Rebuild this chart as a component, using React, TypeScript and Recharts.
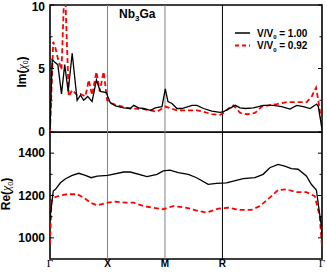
import React from 'react';
import { LineChart, Line, XAxis, YAxis, ReferenceLine, ReferenceArea } from 'recharts';

// Path coordinate: Γ=0, X=0.5, M=1.0, R=1.5, Γ=1.5+√3/2
const K_END = 2.366;
const kTicks = [0, 0.5, 1, 1.5, K_END];
const kLabels = ['Γ', 'X', 'M', 'R', 'Γ'];

const imTicks = [0, 2.5, 5, 7.5, 10];
const imTickLabels = ['0', '', '5', '', '10'];
const reTicks = [1000, 1100, 1200, 1300, 1400];
const reTickLabels = ['1000', '', '1200', '', '1400'];

// Im(chi0), V/V0 = 1.00
const imK100 = [0, 0.019, 0.042, 0.068, 0.1, 0.128, 0.158, 0.193, 0.236, 0.265, 0.293, 0.328, 0.366, 0.404, 0.438, 0.491, 0.502, 0.525, 0.569, 0.641, 0.699, 0.728, 0.771, 0.814, 0.873, 0.916, 0.974, 1.003, 1.026, 1.061, 1.104, 1.148, 1.235, 1.278, 1.335, 1.408, 1.48, 1.509, 1.552, 1.611, 1.654, 1.698, 1.77, 1.856, 1.943, 2.016, 2.088, 2.146, 2.204, 2.262, 2.32, 2.334, 2.363, 2.366];
const imV100 = [0.2, 5.7, 5.5, 5.3, 3.0, 5.3, 3.2, 6.2, 2.5, 2.9, 2.5, 2.8, 2.4, 4.1, 3.2, 3.1, 2.8, 2.3, 2.05, 1.9, 1.85, 2.1, 1.9, 1.85, 1.7, 1.9, 2.0, 3.4, 2.4, 2.25, 1.85, 1.85, 2.1, 2.1, 1.85, 1.65, 1.55, 1.6, 1.8, 2.1, 1.9, 1.85, 1.9, 2.1, 2.1, 2.0, 1.8, 2.1, 2.0, 1.85, 2.2, 2.0, 0.4, 0.2];

// Im(chi0), V/V0 = 0.92
const imK092 = [0, 0.028, 0.048, 0.068, 0.1, 0.128, 0.163, 0.193, 0.236, 0.265, 0.308, 0.337, 0.366, 0.404, 0.432, 0.467, 0.497, 0.525, 0.583, 0.699, 0.814, 0.873, 0.931, 1.003, 1.104, 1.191, 1.278, 1.335, 1.408, 1.48, 1.509, 1.552, 1.596, 1.654, 1.712, 1.784, 1.842, 1.9, 1.973, 2.06, 2.146, 2.233, 2.277, 2.314, 2.334, 2.363, 2.366];
const imV092 = [0, 7.1, 6.6, 5.8, 4.9, 12, 2.8, 3.3, 2.9, 3.0, 2.8, 4.1, 2.9, 4.75, 3.2, 4.75, 2.5, 2.3, 2.1, 1.85, 1.8, 1.7, 1.6, 2.0, 1.7, 1.7, 1.7, 1.6, 1.4, 1.35, 1.5, 1.85, 2.1, 1.5, 1.4, 1.5, 2.0, 2.1, 2.2, 2.35, 2.35, 2.35, 2.8, 3.5, 2.5, 0.7, 0.3];

// Re(chi0), V/V0 = 1.00
const reK100 = [0, 0.004, 0.028, 0.048, 0.091, 0.135, 0.193, 0.25, 0.308, 0.358, 0.41, 0.502, 0.641, 0.699, 0.844, 0.931, 0.985, 1.044, 1.116, 1.203, 1.275, 1.376, 1.448, 1.535, 1.68, 1.782, 1.854, 1.912, 1.984, 2.042, 2.1, 2.158, 2.23, 2.273, 2.317, 2.36, 2.366];
const reV100 = [1080, 1110, 1221, 1229, 1260, 1279, 1295, 1305, 1295, 1284, 1292, 1295, 1311, 1311, 1289, 1300, 1316, 1320, 1308, 1300, 1284, 1253, 1257, 1260, 1280, 1284, 1300, 1331, 1347, 1339, 1327, 1324, 1292, 1253, 1226, 1056, 1000];

// Re(chi0), V/V0 = 0.92
const reK092 = [0, 0.013, 0.033, 0.091, 0.149, 0.236, 0.293, 0.352, 0.41, 0.502, 0.569, 0.656, 0.728, 0.814, 0.901, 0.983, 1.072, 1.188, 1.289, 1.361, 1.463, 1.55, 1.651, 1.752, 1.825, 1.912, 1.984, 2.056, 2.143, 2.23, 2.303, 2.346, 2.36, 2.366];
const reV092 = [970, 1174, 1190, 1201, 1206, 1206, 1190, 1166, 1154, 1166, 1171, 1166, 1166, 1150, 1142, 1135, 1150, 1142, 1127, 1119, 1138, 1142, 1132, 1132, 1150, 1190, 1226, 1229, 1216, 1216, 1197, 1103, 1000, 960];

const zip = (ks: number[], vs: number[]) => ks.map((k, i) => ({ k, v: vs[i] }));
const imData100 = zip(imK100, imV100);
const imData092 = zip(imK092, imV092);
const reData100 = zip(reK100, reV100);
const reData092 = zip(reK092, reV092);

const SANS = 'Liberation Sans, Arial, Helvetica, sans-serif';
const SERIF = 'Liberation Serif, Times New Roman, serif';
const W = 327;
const PLOT_L = 50;
const PLOT_R = 322;

const makeYTick = (ticks: number[], labels: string[], topValue: number) => (props: any) => {
  const { y, payload } = props;
  const idx = ticks.indexOf(payload.value);
  const label = idx >= 0 ? labels[idx] : '';
  const len = label ? 4 : 2.5;
  const dy = payload.value === topValue ? 5.5 : 4.2;
  return (
    <g>
      <line x1={PLOT_L} x2={PLOT_L + len} y1={y} y2={y} stroke="#000" strokeWidth={1} />
      <line x1={PLOT_R - len} x2={PLOT_R} y1={y} y2={y} stroke="#000" strokeWidth={1} />
      {label && (
        <text x={PLOT_L - 5} y={y} dy={dy} textAnchor="end" fontFamily={SANS} fontWeight="bold" fontSize={12} fill="#000">
          {label}
        </text>
      )}
    </g>
  );
};

const XTick = (props: any) => {
  const { x, payload } = props;
  const idx = kTicks.indexOf(payload.value);
  const label = idx >= 0 ? kLabels[idx] : '';
  const isGamma = label === 'Γ';
  return (
    <text
      x={x}
      y={135}
      textAnchor="middle"
      fontFamily={isGamma ? SERIF : SANS}
      fontWeight={isGamma ? 'normal' : 'bold'}
      fontSize={isGamma ? 11 : 10}
      fill="#000"
    >
      {label}
    </text>
  );
};

const vLines = [
  <ReferenceLine key="x" x={0.5} stroke="#808080" strokeWidth={1} ifOverflow="visible" />,
  <ReferenceLine key="m" x={1} stroke="#808080" strokeWidth={1} ifOverflow="visible" />,
  <ReferenceLine key="r" x={1.5} stroke="#000" strokeWidth={1} ifOverflow="visible" />,
];

export default function App() {
  return (
    <div style={{ position: 'absolute', left: 0, top: 0, width: W, height: 273, background: '#fff' }}>
      <div style={{ position: 'absolute', left: 0, top: 0 }}>
        <LineChart width={W} height={140} margin={{ top: 5, right: 5, bottom: 8, left: 0 }}>
          <XAxis type="number" dataKey="k" domain={[0, K_END]} hide allowDataOverflow />
          <YAxis
            type="number"
            width={50}
            domain={[0, 10]}
            ticks={imTicks}
            allowDataOverflow
            axisLine={false}
            tickLine={false}
            tick={makeYTick(imTicks, imTickLabels, 10)}
            interval={0}
          />
          {vLines}
          <Line data={imData092} dataKey="v" type="linear" stroke="#ff0000" strokeWidth={1.8} strokeDasharray="5 3" dot={false} isAnimationActive={false} />
          <Line data={imData100} dataKey="v" type="linear" stroke="#000" strokeWidth={1.3} dot={false} isAnimationActive={false} />
          <ReferenceArea x1={0} x2={K_END} y1={0} y2={10} fill="none" stroke="#000" strokeWidth={1.6} ifOverflow="visible" />
        </LineChart>
      </div>
      <div style={{ position: 'absolute', left: 0, top: 132 }}>
        <LineChart width={W} height={141} margin={{ top: 0, right: 5, bottom: 0, left: 0 }}>
          <XAxis
            type="number"
            dataKey="k"
            domain={[0, K_END]}
            ticks={kTicks}
            interval={0}
            height={14}
            axisLine={false}
            tickLine={false}
            tick={XTick}
            allowDataOverflow
          />
          <YAxis
            type="number"
            width={50}
            domain={[900, 1500]}
            ticks={reTicks}
            allowDataOverflow
            axisLine={false}
            tickLine={false}
            tick={makeYTick(reTicks, reTickLabels, 1500)}
            interval={0}
          />
          {vLines}
          <Line data={reData092} dataKey="v" type="linear" stroke="#ff0000" strokeWidth={1.8} strokeDasharray="5 3" dot={false} isAnimationActive={false} />
          <Line data={reData100} dataKey="v" type="linear" stroke="#000" strokeWidth={1.3} dot={false} isAnimationActive={false} />
          <ReferenceArea x1={0} x2={K_END} y1={900} y2={1500} fill="none" stroke="#000" strokeWidth={1.6} ifOverflow="visible" />
        </LineChart>
      </div>
      <svg width={W} height={273} style={{ position: 'absolute', left: 0, top: 0, pointerEvents: 'none' }}>
        <text x={119} y={18} fontFamily={SANS} fontWeight="bold" fontSize={12} fill="#000">
          Nb<tspan dy={3} fontSize={8}>3</tspan><tspan dy={-3}>Ga</tspan>
        </text>
        <line x1={235} x2={250} y1={33} y2={33} stroke="#000" strokeWidth={1.5} />
        <text x={257} y={36.5} fontFamily={SANS} fontWeight="bold" fontSize={10} fill="#000">
          V/V<tspan dy={2.5} fontSize={6}>0</tspan><tspan dy={-2.5}> = 1.00</tspan>
        </text>
        <line x1={235} x2={250} y1={45.5} y2={45.5} stroke="#ff0000" strokeWidth={1.8} strokeDasharray="4 3" />
        <text x={257} y={49} fontFamily={SANS} fontWeight="bold" fontSize={10} fill="#000">
          V/V<tspan dy={2.5} fontSize={6}>0</tspan><tspan dy={-2.5}> = 0.92</tspan>
        </text>
        <text transform="translate(25.5,72) rotate(-90)" textAnchor="middle" fontFamily={SANS} fontSize={12} fill="#000">
          <tspan fontWeight="bold">Im(</tspan>
          <tspan fontFamily={SERIF} fontStyle="italic">χ</tspan>
          <tspan dy={2.5} fontSize={7}>0</tspan>
          <tspan dy={-2.5} fontWeight="bold">)</tspan>
        </text>
        <text transform="translate(10,194) rotate(-90)" textAnchor="middle" fontFamily={SANS} fontSize={12} fill="#000">
          <tspan fontWeight="bold">Re(</tspan>
          <tspan fontFamily={SERIF} fontStyle="italic">χ</tspan>
          <tspan dy={2.5} fontSize={7}>0</tspan>
          <tspan dy={-2.5} fontWeight="bold">)</tspan>
        </text>
      </svg>
    </div>
  );
}
